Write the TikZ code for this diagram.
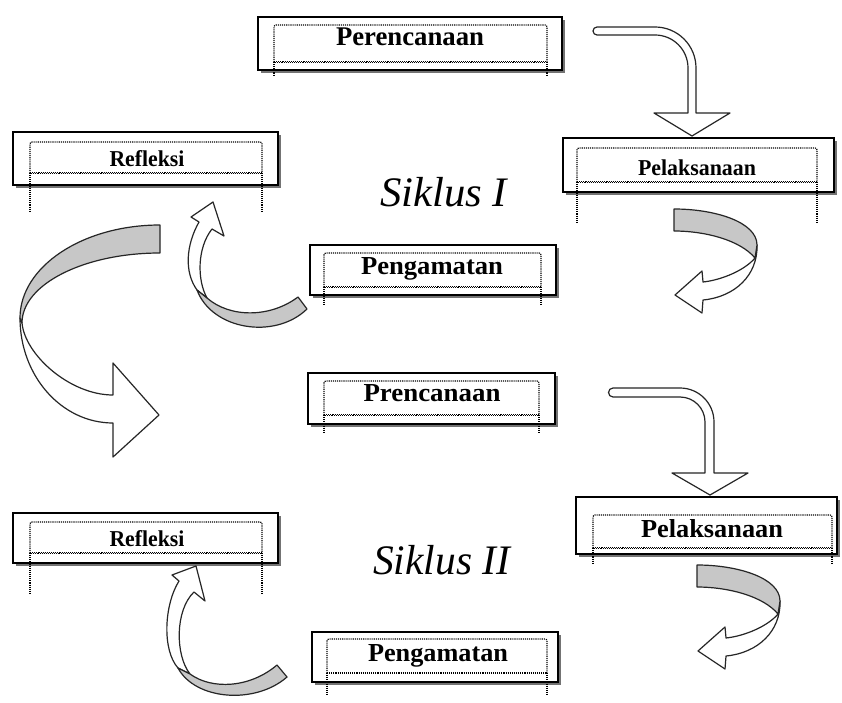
\documentclass[tikz,border=0pt]{standalone}
\usepackage{fontspec}
\setmainfont{Liberation Serif}
\newfontfamily\lblfont{Liberation Serif}
\tikzset{
  shadowfill/.style={fill=black!55, draw=none},
  outerbox/.style={draw=black, line width=1.7pt, fill=white, rectangle, inner sep=0pt, outer sep=0pt},
  innerdot/.style={draw=black, line width=1.2pt, dash pattern=on 1.1pt off 1pt},
  lbltext/.style={inner sep=0pt, anchor=base},
  siklus/.style={inner sep=0pt, anchor=base west},
  tubearrow/.style={draw=black!85, line width=1.2pt, fill=white, line join=round},
  backface/.style={draw=black!85, line width=1.2pt, fill=black!22, line join=round},
}
% name, x1, y1, x2, y2, ix1, ix2, iy1, iy2
\newcommand\cbox[9]{%
  \fill[shadowfill] (#2+3,#3+3) rectangle (#4+3,#5+3);
  \node[outerbox, minimum width={(#4-#2)*1pt}, minimum height={(#5-#3)*1pt}] (#1) at ({(#2+#4)/2},{(#3+#5)/2}) {};
  \draw[innerdot, rounded corners=2pt] (#6,#9) -- (#6,#8) -- (#7,#8) -- (#7,#9);
}
\newcommand\wavybottom[3]{%
  \draw[innerdot] (#1,#3-0.7) -- (#2,#3-0.7);
  \draw[innerdot, dash phase=1pt] (#1,#3+0.7) -- (#2,#3+0.7);
}
% ix1, ix2, iy2, ext
\newcommand\extlines[4]{%
  \draw[innerdot] (#1,#3) -- (#1,#4);
  \draw[innerdot] (#2,#3) -- (#2,#4);
}
\newcommand\lbl[3]{\resizebox{#2pt}{1.08\height}{\fontsize{#1}{#1}\selectfont\lblfont\bfseries #3}}
\newcommand\curvedleftarrow{%
  \draw[tubearrow] (757,245) .. controls (758,275) and (735,297) .. (703,300) -- (702,313) -- (675,295) -- (702,271) -- (703,282) .. controls (722,280) and (745,270) .. (755,258) -- cycle;
  \draw[backface] (674,209) .. controls (715,209) and (757,222) .. (757,245) -- (755,258) .. controls (740,240) and (705,231) .. (674,231) -- cycle;
}
\begin{document}
\begin{tikzpicture}[x=1pt, y=-1pt]
\useasboundingbox (0,0) rectangle (842,703);
\fill[white] (0,0) rectangle (842,703);

% boxes
\cbox{b1}{258}{17}{562}{70}{274}{547}{25}{62}
\wavybottom{274}{547}{62}
\extlines{274}{547}{62}{76}
\node[lbltext] (t1) at (410,46) {\lbl{25}{148}{Perencanaan}};

\cbox{b2}{563}{138}{834}{192}{577}{817}{148}{182}
\wavybottom{577}{817}{182}
\extlines{577}{817}{182}{222}
\node[lbltext] (t2) at (697,176) {\lbl{21}{118}{Pelaksanaan}};

\cbox{b3}{13}{132}{278}{185}{30}{262}{142}{173}
\wavybottom{30}{262}{173}
\extlines{30}{262}{173}{212}
\node[lbltext] (t3) at (147,167) {\lbl{21}{75}{Refleksi}};

\cbox{b4}{310}{245}{556}{295}{324}{541}{253}{287}
\wavybottom{324}{541}{287}
\extlines{324}{541}{287}{305}
\node[lbltext] (t4) at (432,274) {\lbl{24}{142}{Pengamatan}};

\cbox{b5}{308}{373}{555}{424}{324}{539}{381}{415}
\wavybottom{324}{539}{415}
\extlines{324}{539}{415}{433}
\node[lbltext] (t5) at (432,401) {\lbl{24}{137}{Prencanaan}};

\cbox{b6}{576}{497}{837}{554}{593}{832}{515}{548}
\wavybottom{593}{832}{548}
\extlines{593}{832}{548}{564}
\node[lbltext] (t6) at (712,537) {\lbl{24}{142}{Pelaksanaan}};

\cbox{b7}{13}{513}{278}{563}{30}{262}{522}{553}
\wavybottom{30}{262}{553}
\extlines{30}{262}{553}{593}
\node[lbltext] (t7) at (147,546) {\lbl{21}{75}{Refleksi}};

\cbox{b8}{312}{632}{558}{682}{327}{547}{639}{673}
\draw[innerdot] (327,673) -- (547,673);
\extlines{327}{547}{673}{696}
\node[lbltext] (t8) at (438,661) {\lbl{24}{140}{Pengamatan}};

% cycle titles
\node[siklus] (s1) at (380,207) {\resizebox{127pt}{\height}{\fontsize{42}{42}\selectfont\itshape Siklus I}};
\node[siklus] (s2) at (373,574) {\resizebox{137pt}{\height}{\fontsize{42}{42}\selectfont\itshape Siklus II}};

% bent arrows
\draw[tubearrow] (597,27) -- (655,27) arc[start angle=270, end angle=360, radius=41] -- (696,113) -- (730,113) -- (692,136) -- (654,113) -- (688,113) -- (688,68) arc[start angle=360, end angle=270, radius=33] -- (597,35) arc[start angle=90, end angle=270, radius=4] -- cycle;
\draw[tubearrow] (613,388) -- (680,388) arc[start angle=270, end angle=360, radius=34] -- (714,473) -- (748,473) -- (710,495) -- (672,473) -- (705,473) -- (705,422) arc[start angle=360, end angle=270, radius=25] -- (613,397) arc[start angle=90, end angle=270, radius=4.5] -- cycle;

% curved left arrows (right side)
\curvedleftarrow
\begin{scope}[shift={(23,356)}]
\curvedleftarrow
\end{scope}

% big curved arrow (left side)
\draw[tubearrow] (20,318) .. controls (20,376) and (61.6,423) .. (113,423) -- (113,457) -- (159,415) -- (113,363) -- (113,395) .. controls (70,395) and (25,355) .. (22,323) -- cycle;
\draw[backface] (160,225) .. controls (82.7,225) and (20,266.6) .. (20,318) -- (22,323) .. controls (22,284.3) and (84,253) .. (160,253) -- cycle;

% small curved up arrows
\draw[tubearrow] (199,222) .. controls (186,245) and (184,272) .. (197,290) -- (207,298) .. controls (197,280) and (197,248) .. (212,229) -- (224,236) -- (213,202) -- (191,217) -- cycle;
\draw[backface] (197,290) .. controls (212,330) and (275,340) .. (307,309) -- (298,297) .. controls (270,318) and (230,318) .. (207,298) -- cycle;

\draw[tubearrow] (179,581) .. controls (164,605) and (162,650) .. (178,668) -- (190,674) .. controls (175,655) and (175,610) .. (194,592) -- (205,601) -- (196,566) -- (172,575) -- cycle;
\draw[backface] (178,668) .. controls (195,700) and (255,705) .. (287,677) -- (277,665) .. controls (250,688) and (212,690) .. (190,674) -- cycle;
\end{tikzpicture}
\end{document}
